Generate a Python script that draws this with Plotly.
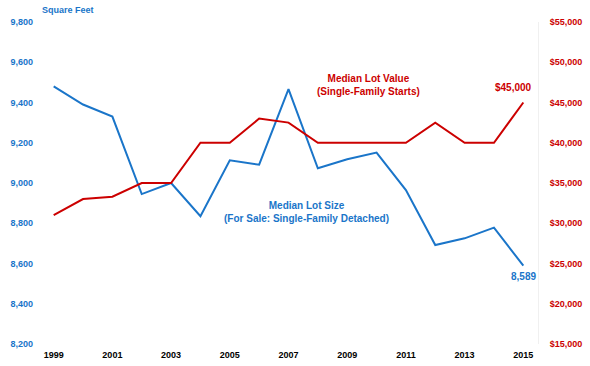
import plotly.graph_objects as go

years = list(range(1999, 2016))
lot_size = [9480, 9390, 9330, 8945, 9000, 8835, 9113, 9091, 9466, 9073,
            9118, 9151, 8965, 8692, 8725, 8778, 8589]
lot_value = [31000, 33000, 33300, 35000, 35000, 40000, 40000, 43000, 42500, 40000,
             40000, 40000, 40000, 42500, 40000, 40000, 45000]
left_ticks = list(range(8200, 9801, 200))
right_ticks = list(range(15000, 55001, 5000))
x_ticks = list(range(1999, 2016, 2))

BLUE = "#1a75c9"
RED = "#cc0000"
FONT = "Liberation Sans"

fig = go.Figure()
fig.add_trace(go.Scatter(x=years, y=lot_size, mode="lines",
                         line=dict(color=BLUE, width=2), yaxis="y", showlegend=False))
fig.add_trace(go.Scatter(x=years, y=lot_value, mode="lines",
                         line=dict(color=RED, width=2), yaxis="y2", showlegend=False))

fig.update_layout(
    width=590, height=366,
    margin=dict(l=39, r=52, t=22, b=22),
    paper_bgcolor="white", plot_bgcolor="white",
    font=dict(family=FONT, size=9),
    xaxis=dict(range=[1998.5, 2015.5], tickvals=x_ticks, ticktext=[str(t) for t in x_ticks],
               showgrid=False, zeroline=False, showline=False, ticks="",
               automargin=False, ticklabelstandoff=4,
               tickfont=dict(family=FONT, size=9, color="black", weight="bold")),
    yaxis=dict(range=[8200, 9800], tickvals=left_ticks,
               ticktext=[f"{v:,}" for v in left_ticks],
               showgrid=False, zeroline=False, showline=False, ticks="",
               automargin=False, ticklabelstandoff=5,
               tickfont=dict(family=FONT, size=9, color=BLUE, weight="bold")),
    yaxis2=dict(range=[15000, 55000], tickvals=right_ticks,
                ticktext=[f"${v:,}" for v in right_ticks],
                overlaying="y", side="right",
                showgrid=False, zeroline=False, showline=True, linecolor="#f0f0f0", linewidth=1,
                ticks="", ticklabelstandoff=9, automargin=False,
                tickfont=dict(family=FONT, size=9, color=RED, weight="bold")),
)

fig.add_annotation(xref="paper", yref="paper", x=0.058, y=1.037, xanchor="center", yanchor="middle",
                   text="<b>Square Feet</b>",
                   showarrow=False, font=dict(family=FONT, size=9, color=BLUE))
fig.add_annotation(xref="x", yref="y", x=2009.71, y=9485,
                   text="<b>Median Lot Value<br>(Single-Family Starts)</b>",
                   showarrow=False, font=dict(family=FONT, size=10, color=RED))
fig.add_annotation(xref="x", yref="y", x=2007.63, y=8856,
                   text="<b>Median Lot Size<br>(For Sale: Single-Family Detached)</b>",
                   showarrow=False, font=dict(family=FONT, size=10, color=BLUE))
fig.add_annotation(xref="x", yref="y2", x=years[-1], y=lot_value[-1],
                   text=f"<b>${lot_value[-1]:,}</b>", showarrow=False,
                   xshift=-10, yshift=15, font=dict(family=FONT, size=10, color=RED))
fig.add_annotation(xref="x", yref="y", x=years[-1], y=lot_size[-1],
                   text=f"<b>{lot_size[-1]:,}</b>", showarrow=False,
                   yshift=-11, font=dict(family=FONT, size=10, color=BLUE))

fig.write_html("out.html", config={"displayModeBar": False},
               post_script="document.body.style.margin='0';document.body.style.overflow='hidden';")
